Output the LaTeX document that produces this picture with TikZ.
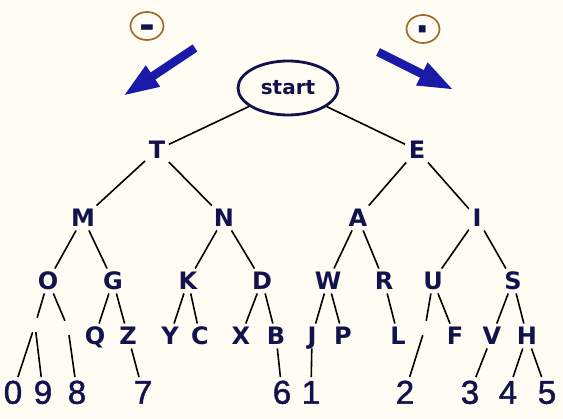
\documentclass[tikz,border=0pt]{standalone}
\usepackage{fontspec}
\setmainfont{DejaVu Sans}
\newfontfamily\digitfont[RawFeature={embolden=1.5}]{Liberation Sans}
\usetikzlibrary{arrows.meta,shapes.geometric}

\definecolor{navy}{HTML}{12124E}
\definecolor{arrowblue}{HTML}{1A1AA8}
\definecolor{ringbrown}{HTML}{A0682C}
\definecolor{paper}{HTML}{FFFDF3}

\begin{document}
\begin{tikzpicture}[
  x=1pt, y=-1pt,
  letter/.style={font=\fontsize{24}{24}\selectfont\bfseries, text=navy,
                 inner sep=3.5pt, text height=17.5pt, text depth=0pt},
  digit/.style={font=\digitfont\fontsize{33}{33}\selectfont, text=navy,
                inner sep=3pt, text height=23.5pt, text depth=0pt},
  blank/.style={minimum size=14pt, inner sep=0pt},
  edge/.style={line width=1.6pt, black},
  ring/.style={ellipse, draw=ringbrown, line width=1.7pt, minimum width=33pt,
               minimum height=28pt, inner sep=0pt, text=navy,
               font=\fontsize{38}{38}\selectfont\bfseries, text height=10pt, text depth=0pt},
  bigarr/.style={line width=8.5pt, arrowblue, -{Triangle[length=36pt,width=23pt]}}
]
\path[use as bounding box, fill=paper] (0,0) rectangle (563,419);

% signs and directions
\node[ring] (dash) at (147,26) {\raisebox{-8pt}{-}};
\node[ring] (dot) at (423,29) {\raisebox{-8.5pt}{·}};
\coordinate (dashtail) at (195,48);
\coordinate (dashtip) at (123,96);
\coordinate (dottail) at (378,52);
\coordinate (dottip) at (454,90);
\draw[bigarr] (dashtail) -- (dashtip);
\draw[bigarr] (dottail) -- (dottip);

\node[ellipse, draw=navy, line width=2.8pt, minimum width=100pt, minimum height=54pt,
      inner sep=0pt, text=navy, font=\fontsize{20}{20}\selectfont\bfseries] (start) at (288,88) {start};

% letters
\node[letter] (T) at (157,150) {T};
\node[letter] (E) at (417,150) {E};
\node[letter] (M) at (83,218) {M};
\node[letter] (N) at (224,218) {N};
\node[letter] (A) at (358,218) {A};
\node[letter] (I) at (477,218) {I};
\node[letter] (O) at (48,281) {O};
\node[letter] (G) at (113,281) {G};
\node[letter] (K) at (188,281) {K};
\node[letter] (D) at (262,281) {D};
\node[letter] (W) at (328,281) {W};
\node[letter] (R) at (384,281) {R};
\node[letter] (U) at (433,281) {U};
\node[letter] (S) at (513,281) {S};
\node[letter] (Q) at (95,336) {Q};
\node[letter] (Z) at (128,336) {Z};
\node[letter] (Y) at (170,336) {Y};
\node[letter] (C) at (200,336) {C};
\node[letter] (X) at (241,336) {X};
\node[letter] (B) at (276,336) {B};
\node[letter] (J) at (312,336) {J};
\node[letter] (P) at (343,336) {P};
\node[letter] (L) at (398,336) {L};
\node[letter] (F) at (455,336) {F};
\node[letter] (V) at (492,336) {V};
\node[letter] (H) at (527,336) {H};

% empty branch points
\node[blank] (Oleft) at (35,325) {};
\node[blank] (Oright) at (68,328) {};
\node[blank] (Uleft) at (425,328) {};

% digits
\node[digit] (d0) at (13,392) {0};
\node[digit] (d9) at (43,392) {9};
\node[digit] (d8) at (77,392) {8};
\node[digit] (d7) at (143,392) {7};
\node[digit] (d6) at (282,392) {6};
\node[digit] (d1) at (311,392) {1};
\node[digit] (d2) at (405,392) {2};
\node[digit] (d3) at (470,392) {3};
\node[digit] (d4) at (508,392) {4};
\node[digit] (d5) at (547,392) {5};

\draw[edge] (start) -- (T);
\draw[edge] (start) -- (E);
\draw[edge] (T) -- (M);
\draw[edge] (T) -- (N);
\draw[edge] (E) -- (A);
\draw[edge] (E) -- (I);
\draw[edge] (M) -- (O);
\draw[edge] (M) -- (G);
\draw[edge] (N) -- (K);
\draw[edge] (N) -- (D);
\draw[edge] (A) -- (W);
\draw[edge] (A) -- (R);
\draw[edge] (I) -- (U);
\draw[edge] (I) -- (S);
\draw[edge] (O) -- (Oleft);
\draw[edge] (O) -- (Oright);
\draw[edge] (G) -- (Q);
\draw[edge] (G) -- (Z);
\draw[edge] (K) -- (Y);
\draw[edge] (K) -- (C);
\draw[edge] (D) -- (X);
\draw[edge] (D) -- (B);
\draw[edge] (W) -- (J);
\draw[edge] (W) -- (P);
\draw[edge] (R) -- (L);
\draw[edge] (U) -- (Uleft);
\draw[edge] (U) -- (F);
\draw[edge] (S) -- (V);
\draw[edge] (S) -- (H);
\draw[edge] (Oleft) -- (d0);
\draw[edge] (Oleft) -- (d9);
\draw[edge] (Oright) -- (d8);
\draw[edge] (Z) -- (d7);
\draw[edge] (B) -- (d6);
\draw[edge] (J) -- (d1);
\draw[edge] (Uleft) -- (d2);
\draw[edge] (V) -- (d3);
\draw[edge] (H) -- (d4);
\draw[edge] (H) -- (d5);
\end{tikzpicture}
\end{document}
